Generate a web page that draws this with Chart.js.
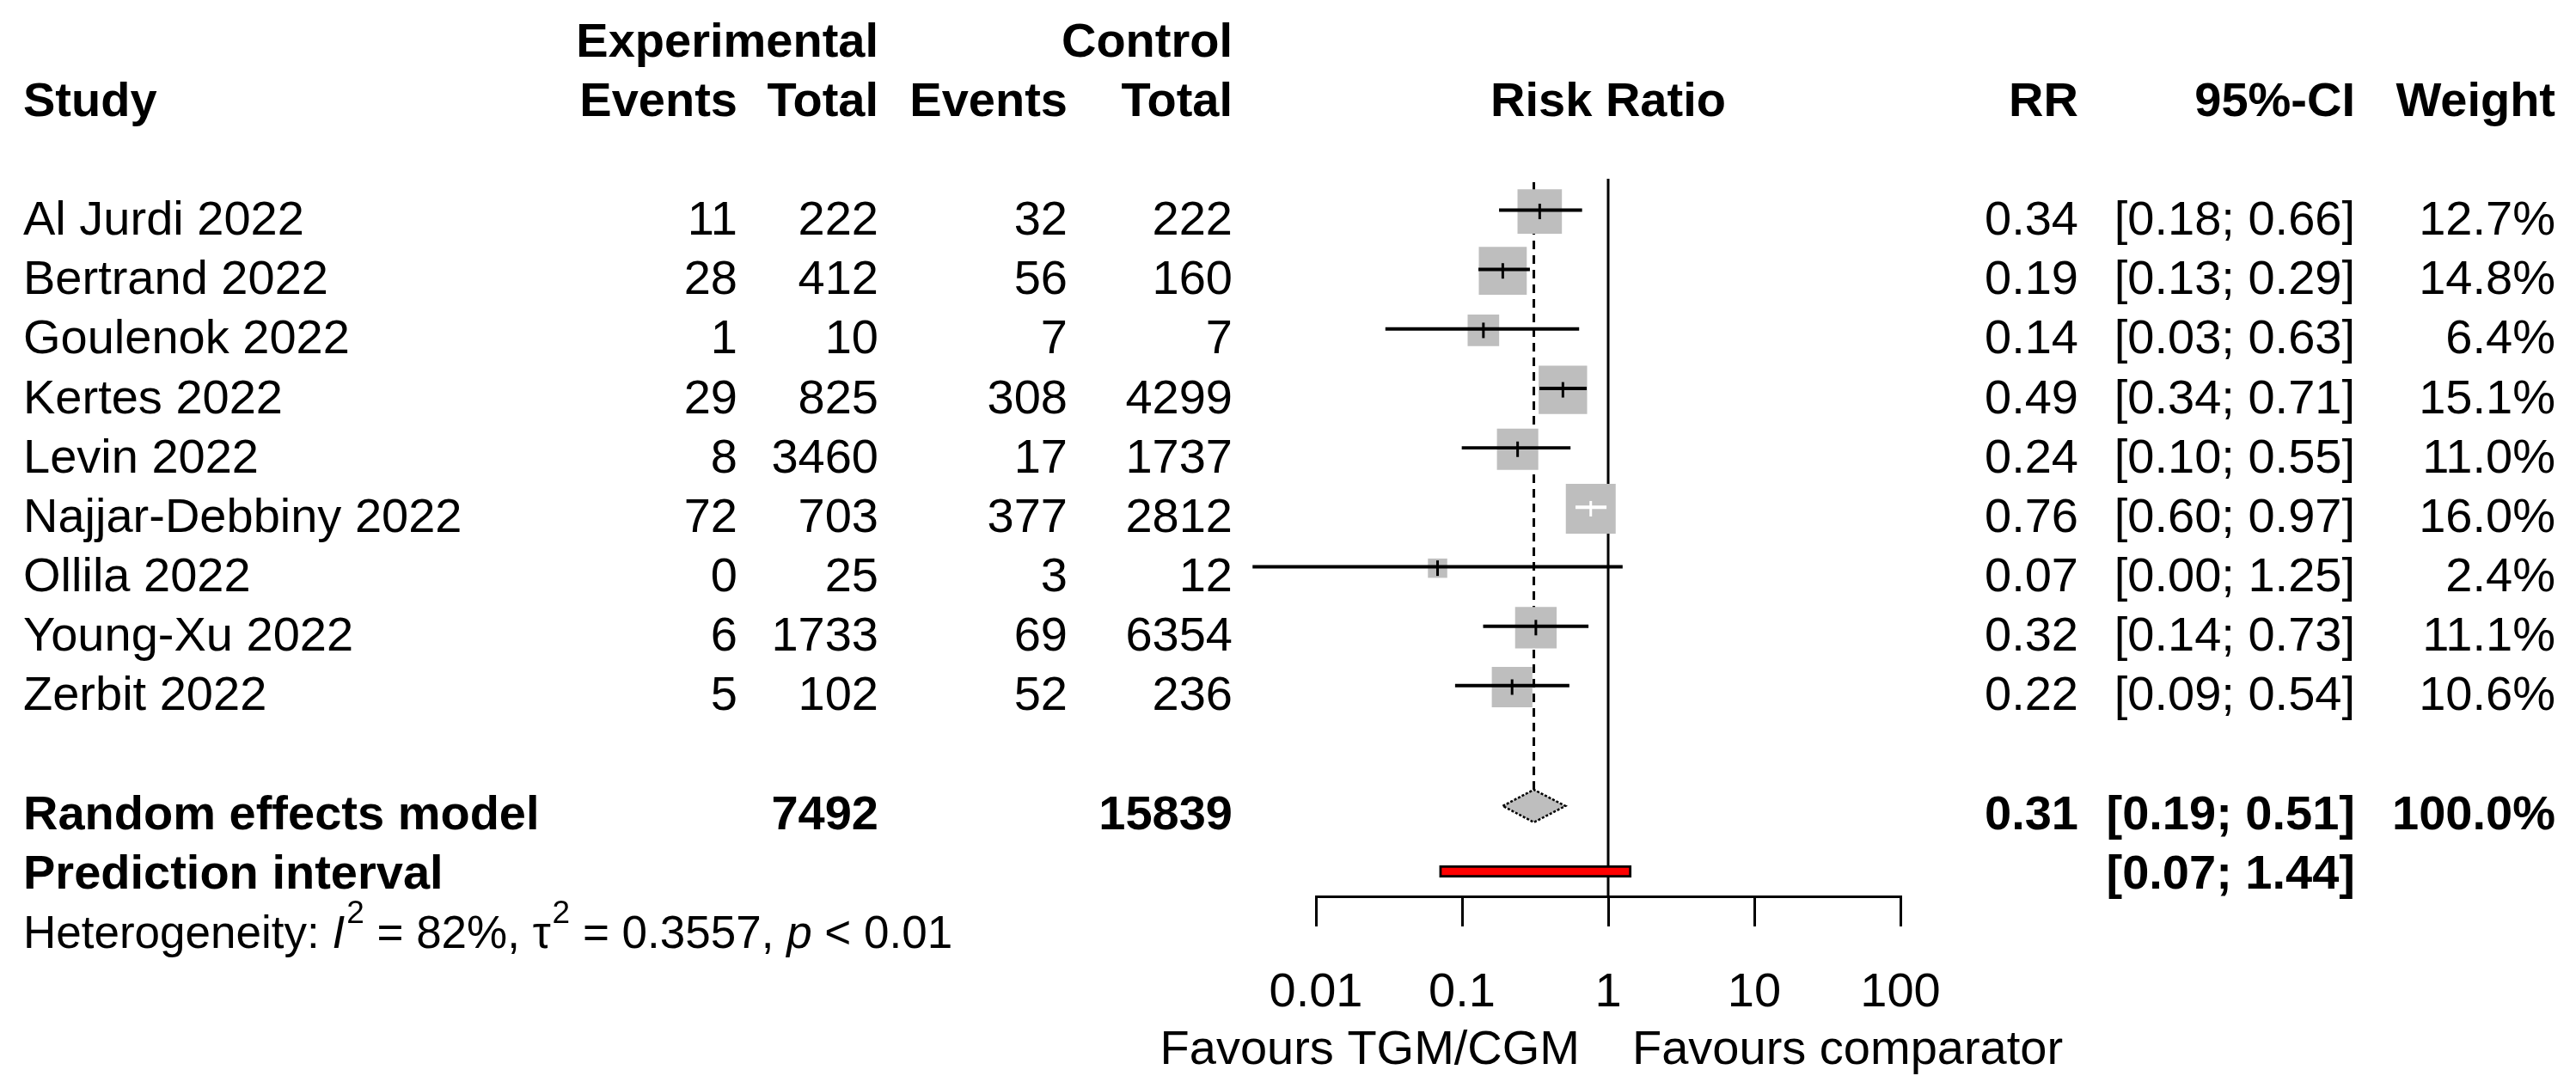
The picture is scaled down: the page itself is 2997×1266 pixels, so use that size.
<!DOCTYPE html>
<html>
<head>
<meta charset="utf-8">
<title>Forest plot</title>
<script src="https://cdn.jsdelivr.net/npm/chart.js@4.4.1/dist/chart.umd.min.js"></script>
<style>
    html, body { margin: 0; padding: 0; background: #ffffff; }
    #wrap { width: 2997px; height: 1266px; position: relative; }
</style>
</head>
<body>
<div id="wrap"><canvas id="forest"></canvas></div>
<script>
// ---- data ----
const studies = ['Al Jurdi 2022', 'Bertrand 2022', 'Goulenok 2022', 'Kertes 2022', 'Levin 2022',
    'Najjar-Debbiny 2022', 'Ollila 2022', 'Young-Xu 2022', 'Zerbit 2022'];
const expEvents = [11, 28, 1, 29, 8, 72, 0, 6, 5];
const expTotal = [222, 412, 10, 825, 3460, 703, 25, 1733, 102];
const ctrlEvents = [32, 56, 7, 308, 17, 377, 3, 69, 52];
const ctrlTotal = [222, 160, 7, 4299, 1737, 2812, 12, 6354, 236];
const rr = [0.34, 0.19, 0.14, 0.49, 0.24, 0.76, 0.068, 0.32, 0.22];
const ciLow = [0.18, 0.13, 0.03, 0.34, 0.10, 0.60, 0.0037, 0.14, 0.09];   // Ollila lower bound
const ciHigh = [0.66, 0.29, 0.63, 0.71, 0.55, 0.97, 1.25, 0.73, 0.54];
const rrLabels = ['0.34', '0.19', '0.14', '0.49', '0.24', '0.76', '0.07', '0.32', '0.22'];
const ciLabels = ['[0.18; 0.66]', '[0.13; 0.29]', '[0.03; 0.63]', '[0.34; 0.71]', '[0.10; 0.55]',
    '[0.60; 0.97]', '[0.00; 1.25]', '[0.14; 0.73]', '[0.09; 0.54]'];
const weights = [12.7, 14.8, 6.4, 15.1, 11.0, 16.0, 2.4, 11.1, 10.6];
const weightLabels = ['12.7%', '14.8%', '6.4%', '15.1%', '11.0%', '16.0%', '2.4%', '11.1%', '10.6%'];

const pooled = { rr: 0.31, low: 0.19, high: 0.51, label: '0.31', ci: '[0.19; 0.51]', weight: '100.0%' };
const pooledTotals = ['7492', '15839'];
const predInterval = [0.07, 1.44];
const predLabel = '[0.07; 1.44]';

const axisTicks = [0.01, 0.1, 1, 10, 100];
const axisTickLabels = ['0.01', '0.1', '1', '10', '100'];

// ---- layout ----
const FONT = "'Liberation Sans', Arial, Helvetica, sans-serif";
const FS = 56;
const ROW_POOLED = 10;
const ROW_PRED = 11;
const ROW_HET = 12;
const BOX_K = 14.5;               // square side = k * sqrt(weight)

function boxSize(w) { return BOX_K * Math.sqrt(w); }

function ciColor(c) {
    const xs = c.chart.scales.x;
    const i = c.dataIndex;
    const half = boxSize(weights[i]) / 2;
    const cx = xs.getPixelForValue(rr[i]);
    const inside = xs.getPixelForValue(ciLow[i]) > cx - half + 2 && xs.getPixelForValue(ciHigh[i]) < cx + half - 2;
    return inside ? '#ffffff' : '#000000';
}

const textPlugin = {
    id: 'forestText',
    beforeDatasetsDraw(chart) {
        const ctx = chart.ctx;
        const xs = chart.scales.x, ys = chart.scales.y;
        const area = chart.chartArea;
        ctx.save();
        // line of no effect
        ctx.strokeStyle = '#000';
        ctx.lineWidth = 3;
        ctx.beginPath();
        ctx.moveTo(xs.getPixelForValue(1), area.top);
        ctx.lineTo(xs.getPixelForValue(1), area.bottom);
        ctx.stroke();
        // pooled estimate (dashed)
        ctx.setLineDash([10, 7]);
        ctx.beginPath();
        ctx.moveTo(xs.getPixelForValue(pooled.rr), area.top + 4);
        ctx.lineTo(xs.getPixelForValue(pooled.rr), ys.getPixelForValue(ROW_POOLED) - 19);
        ctx.stroke();
        ctx.restore();
    },
    afterDatasetsDraw(chart) {
        const ctx = chart.ctx;
        const xs = chart.scales.x, ys = chart.scales.y;
        const yc = ys.getPixelForValue(ROW_POOLED);
        ctx.save();
        ctx.beginPath();
        ctx.moveTo(xs.getPixelForValue(pooled.low), yc);
        ctx.lineTo(xs.getPixelForValue(pooled.rr), yc - 19);
        ctx.lineTo(xs.getPixelForValue(pooled.high), yc);
        ctx.lineTo(xs.getPixelForValue(pooled.rr), yc + 19);
        ctx.closePath();
        ctx.fillStyle = '#bebebe';
        ctx.fill();
        ctx.setLineDash([3, 2]);
        ctx.lineWidth = 2.5;
        ctx.strokeStyle = '#000';
        ctx.stroke();
        ctx.restore();
    },
    afterDraw(chart) {
        const ctx = chart.ctx;
        const xs = chart.scales.x, ys = chart.scales.y;
        const base = r => ys.getPixelForValue(r) + 27;
        const put = (txt, x, r, align, bold) => {
            ctx.font = (bold ? 'bold ' : '') + FS + 'px ' + FONT;
            ctx.textAlign = align;
            ctx.fillText(txt, x, base(r));
        };
        const col = { study: 27, expEv: 858, expTot: 1022, ctlEv: 1242, ctlTot: 1434, rr: 2418, ci: 2740, w: 2973 };

        ctx.save();
        ctx.fillStyle = '#000';
        ctx.textBaseline = 'alphabetic';

        // headers
        put('Experimental', col.expTot, -3, 'right', true);
        put('Control', col.ctlTot, -3, 'right', true);
        put('Study', col.study, -2, 'left', true);
        put('Events', col.expEv, -2, 'right', true);
        put('Total', col.expTot, -2, 'right', true);
        put('Events', col.ctlEv, -2, 'right', true);
        put('Total', col.ctlTot, -2, 'right', true);
        put('Risk Ratio', (xs.left + xs.right) / 2, -2, 'center', true);
        put('RR', col.rr, -2, 'right', true);
        put('95%-CI', col.ci, -2, 'right', true);
        put('Weight', col.w, -2, 'right', true);

        // studies
        studies.forEach((s, i) => {
            put(s, col.study, i, 'left', false);
            put(String(expEvents[i]), col.expEv, i, 'right', false);
            put(String(expTotal[i]), col.expTot, i, 'right', false);
            put(String(ctrlEvents[i]), col.ctlEv, i, 'right', false);
            put(String(ctrlTotal[i]), col.ctlTot, i, 'right', false);
            put(rrLabels[i], col.rr, i, 'right', false);
            put(ciLabels[i], col.ci, i, 'right', false);
            put(weightLabels[i], col.w, i, 'right', false);
        });

        // pooled
        put('Random effects model', col.study, ROW_POOLED, 'left', true);
        put(pooledTotals[0], col.expTot, ROW_POOLED, 'right', true);
        put(pooledTotals[1], col.ctlTot, ROW_POOLED, 'right', true);
        put(pooled.label, col.rr, ROW_POOLED, 'right', true);
        put(pooled.ci, col.ci, ROW_POOLED, 'right', true);
        put(pooled.weight, col.w, ROW_POOLED, 'right', true);
        put('Prediction interval', col.study, ROW_PRED, 'left', true);
        put(predLabel, col.ci, ROW_PRED, 'right', true);

        // heterogeneity line
        const hs = 53;
        const parts = [
            ['Heterogeneity: ', ''], ['I', 'italic'], ['2', 'sup'], [' = 82%, ', ''],
            ['\u03c4', ''], ['2', 'sup'], [' = 0.3557, ', ''], ['p', 'italic'], [' < 0.01', '']
        ];
        let hx = col.study;
        const hy = base(ROW_HET);
        ctx.textAlign = 'left';
        parts.forEach(([t, st]) => {
            if (st === 'sup') {
                ctx.font = Math.round(hs * 0.7) + 'px ' + FONT;
                ctx.fillText(t, hx + 2, hy - 29);
                hx += 2;
            } else {
                ctx.font = (st === 'italic' ? 'italic ' : '') + hs + 'px ' + FONT;
                ctx.fillText(t, hx, hy);
            }
            hx += ctx.measureText(t).width;
        });

        // favours labels
        ctx.font = FS + 'px ' + FONT;
        const x1 = xs.getPixelForValue(1);
        ctx.textAlign = 'right';
        ctx.fillText('Favours TGM/CGM', x1 - 33, 1238);
        ctx.textAlign = 'left';
        ctx.fillText('Favours comparator', x1 + 28, 1238);
        ctx.restore();
    }
};

const ctx = document.getElementById('forest');

new Chart(ctx, {
    type: 'scatter',
    data: {
        datasets: [
            {
                // point-estimate ticks
                type: 'scatter',
                data: studies.map((s, i) => ({ x: rr[i], y: i })),
                pointStyle: 'line',
                pointRotation: 90,
                pointRadius: 9,
                pointBorderWidth: 3,
                borderColor: ciColor,
                backgroundColor: ciColor,
                order: 1,
                clip: false
            },
            {
                // confidence intervals
                type: 'bar',
                indexAxis: 'y',
                data: studies.map((s, i) => ({ x: [ciLow[i], ciHigh[i]], y: i })),
                barThickness: 3.3,
                backgroundColor: ciColor,
                borderWidth: 0,
                order: 2,
                clip: false
            },
            {
                // prediction interval
                type: 'bar',
                indexAxis: 'y',
                data: [{ x: predInterval, y: ROW_PRED }],
                barThickness: 14,
                backgroundColor: '#ff0000',
                borderColor: '#000000',
                borderWidth: 3,
                borderSkipped: false,
                order: 2,
                clip: false
            },
            {
                // study squares
                type: 'scatter',
                data: studies.map((s, i) => ({ x: rr[i], y: i })),
                pointStyle: 'rect',
                pointRadius: c => boxSize(weights[c.dataIndex]) / 2 / Math.SQRT1_2,
                pointBorderWidth: 0,
                backgroundColor: '#bebebe',
                borderColor: '#bebebe',
                order: 3,
                clip: false
            }
        ]
    },
    options: {
        responsive: true,
        maintainAspectRatio: false,
        devicePixelRatio: 1,
        animation: false,
        events: [],
        layout: { padding: { top: 208, left: 1531, right: 786, bottom: 0 } },
        plugins: {
            legend: { display: false },
            tooltip: { enabled: false }
        },
        scales: {
            x: {
                type: 'logarithmic',
                position: 'bottom',
                min: 0.01,
                max: 100,
                beginAtZero: false,
                offset: false,
                afterBuildTicks: scale => { scale.ticks = axisTicks.map(v => ({ value: v })); },
                afterFit: scale => { scale.height = 223; },
                ticks: {
                    autoSkip: false,
                    maxRotation: 0,
                    color: '#000',
                    padding: 44,
                    font: { family: FONT, size: FS },
                    callback: (v, i) => axisTickLabels[i]
                },
                grid: {
                    drawOnChartArea: false,
                    drawTicks: true,
                    tickLength: 35,
                    lineWidth: 3,
                    color: '#000'
                },
                border: { display: true, color: '#000', width: 3 }
            },
            y: {
                type: 'linear',
                display: false,
                reverse: true,
                offset: false,
                min: -0.55,
                max: 11.52
            }
        }
    },
    plugins: [textPlugin]
});
</script>
</body>
</html>
